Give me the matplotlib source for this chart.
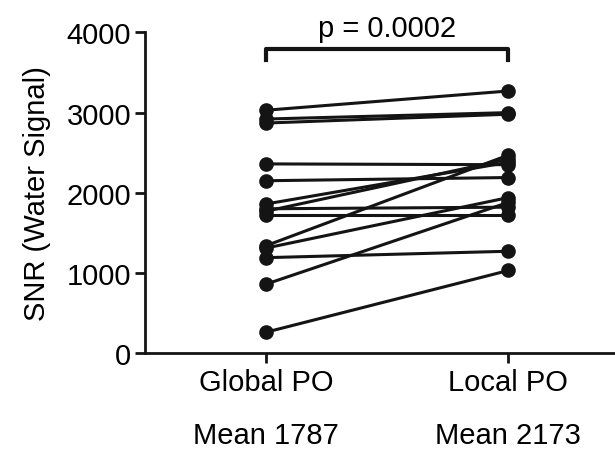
import matplotlib.pyplot as plt
import numpy as np

plt.rcParams['font.family'] = ['Liberation Sans', 'DejaVu Sans']

# SNR values per subject
groups = ['Global PO', 'Local PO']
means = ['Mean 1787', 'Mean 2173']
global_po = [3030, 2920, 2870, 2360, 2150, 1860, 1770, 1800, 1720, 1340, 1310, 1190, 860, 260]
local_po = [3270, 3000, 2980, 2350, 2190, 2380, 2420, 1820, 1720, 2470, 1940, 1270, 1880, 1030]
p_text = 'p = 0.0002'

fs = 21
fig = plt.figure(figsize=(6.15, 4.52), dpi=100)
ax = fig.add_axes([0.2358, 0.2168, 0.7642, 0.7091])

for a, b in zip(global_po, local_po):
    ax.plot([0, 1], [a, b], '-o', color='#141414', lw=2.2, ms=9.5, clip_on=False)

ax.set_xlim(-0.5, 1.44)
ax.set_ylim(0, 4000)
ax.set_yticks([0, 1000, 2000, 3000, 4000])
ax.set_xticks([0, 1])
ax.set_xticklabels(groups)
ax.tick_params(axis='both', labelsize=fs, width=2, length=7, color='#141414')
ax.tick_params(axis='y', pad=3)
ax.tick_params(axis='x', pad=4)
ax.set_ylabel('SNR (Water Signal)', fontsize=fs, labelpad=2)
ax.yaxis.set_label_coords(-0.2, 0.5)

for side in ['top', 'right']:
    ax.spines[side].set_visible(False)
for side in ['left', 'bottom']:
    ax.spines[side].set_linewidth(2)
    ax.spines[side].set_color('#141414')

# mean labels under the group names
for i, m in enumerate(means):
    ax.text(i, -0.255, m, transform=ax.get_xaxis_transform(), ha='center', va='center', fontsize=fs)

# significance bracket
ax.plot([0, 0, 1, 1], [3660, 3790, 3790, 3660], color='#141414', lw=3, clip_on=False)
ax.text(0.5, 3960, p_text, ha='center', va='baseline', fontsize=fs)

fig.savefig('out.png', dpi=100)
